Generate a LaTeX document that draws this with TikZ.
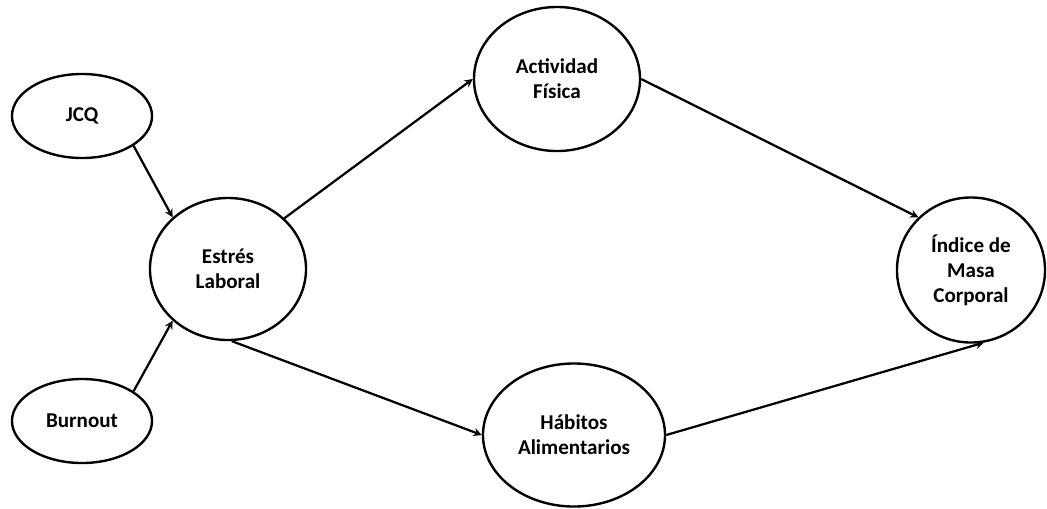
\documentclass[tikz,border=0pt]{standalone}
\usepackage{fontspec}
\setmainfont{Carlito}
\usetikzlibrary{shapes, arrows}

\begin{document}
\begin{tikzpicture}[x=0.025cm, y=-0.025cm,
        var/.style={draw, ellipse, line width=1.7pt, inner sep=0pt, align=center, font=\fontsize{15}{17.7}\selectfont\bfseries},
        arrow/.style={->, >=stealth, line width=1.6pt}
    ]
        \useasboundingbox (0,0) rectangle (1047,508);

        % Variables
        \node[var, minimum width=3.5cm, minimum height=2.1cm] (jcq) at (82,116) {JCQ};
        \node[var, minimum width=3.5cm, minimum height=2.1cm] (burnout) at (82,421) {Burnout};
        \node[var, minimum width=3.9cm, minimum height=3.55cm] (estres) at (228,269) {Estrés\\Laboral};
        \node[var, minimum width=4.15cm, minimum height=3.6cm] (actividad) at (557,79) {Actividad\\Física};
        \node[var, minimum width=4.55cm, minimum height=3.575cm] (habitos) at (574,435) {Hábitos\\Alimentarios};
        \node[var, minimum width=3.7cm, minimum height=3.625cm] (imc) at (971,270) {Índice de\\Masa\\Corporal};

        % Arrows
        \draw[arrow] (jcq.-30) -- (estres.137);
        \draw[arrow] (burnout.30) -- (estres.223);
        \draw[arrow] (estres.42) -- (actividad.west);
        \draw[arrow] (estres.-87) -- (habitos.west);
        \draw[arrow] (actividad.east) -- (imc.135);
        \draw[arrow] (habitos.east) -- (imc.-80);

    \end{tikzpicture}
\end{document}
